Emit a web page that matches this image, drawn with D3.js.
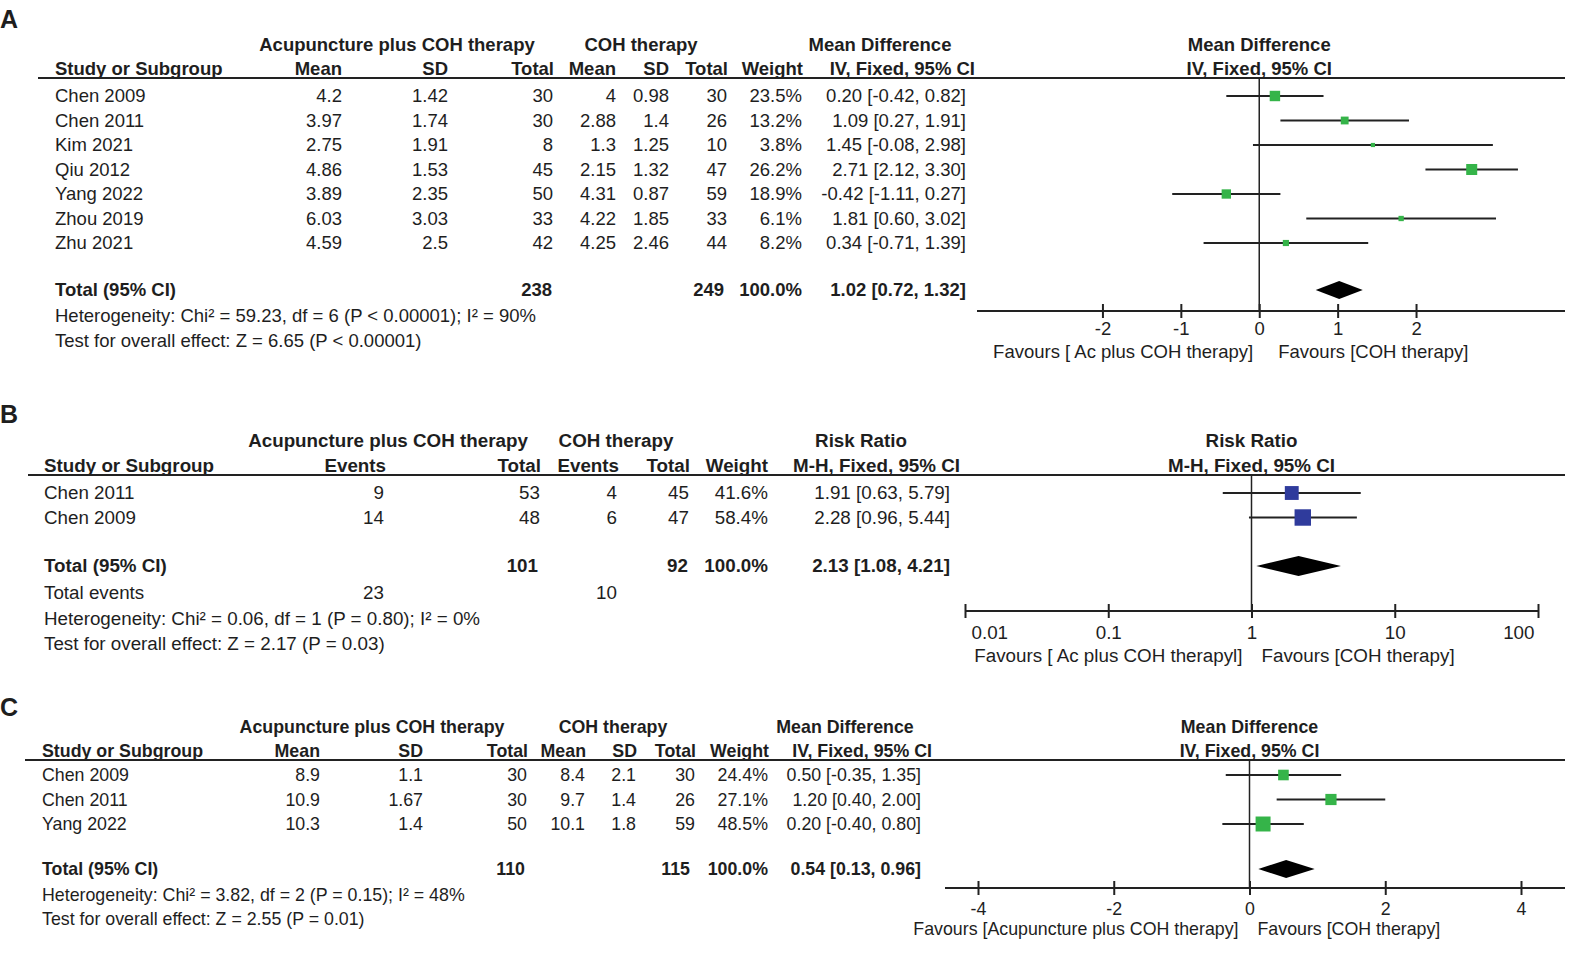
<!DOCTYPE html>
<html>
<head>
    <meta charset="utf-8">
    <title>Forest plots - Acupuncture plus COH therapy vs COH therapy</title>
    <script type="text/javascript" src="https://cdn.jsdelivr.net/npm/d3@7/dist/d3.min.js"></script>
    <style type="text/css">
        body { margin: 0; background: #fff; }
        svg text { font-family: "Liberation Sans", Arial, sans-serif; fill: #1e1e1e; }
    </style>
</head>
<body>
<script type="text/javascript">
    // ---- panel A data (mean difference) ----
    var studiesA = ["Chen 2009", "Chen 2011", "Kim 2021", "Qiu 2012", "Yang 2022", "Zhou 2019", "Zhu 2021"];
    var expMeanA = [4.2, 3.97, 2.75, 4.86, 3.89, 6.03, 4.59];
    var expSdA   = [1.42, 1.74, 1.91, 1.53, 2.35, 3.03, 2.5];
    var expNA    = [30, 30, 8, 45, 50, 33, 42];
    var ctlMeanA = [4, 2.88, 1.3, 2.15, 4.31, 4.22, 4.25];
    var ctlSdA   = [0.98, 1.4, 1.25, 1.32, 0.87, 1.85, 2.46];
    var ctlNA    = [30, 26, 10, 47, 59, 33, 44];
    var weightA  = [23.5, 13.2, 3.8, 26.2, 18.9, 6.1, 8.2];
    var estA     = [0.20, 1.09, 1.45, 2.71, -0.42, 1.81, 0.34];
    var loA      = [-0.42, 0.27, -0.08, 2.12, -1.11, 0.60, -0.71];
    var hiA      = [0.82, 1.91, 2.98, 3.30, 0.27, 3.02, 1.39];
    var totalA   = [1.02, 0.72, 1.32];
    var totalNA  = [238, 249];
    var ticksA   = [-2, -1, 0, 1, 2];
    var hetA  = "Heterogeneity: Chi\u00b2 = 59.23, df = 6 (P < 0.00001); I\u00b2 = 90%";
    var testA = "Test for overall effect: Z = 6.65 (P < 0.00001)";

    // ---- panel B data (risk ratio) ----
    var studiesB = ["Chen 2011", "Chen 2009"];
    var expEvB   = [9, 14];
    var expNB    = [53, 48];
    var ctlEvB   = [4, 6];
    var ctlNB    = [45, 47];
    var weightB  = [41.6, 58.4];
    var estB     = [1.91, 2.28];
    var loB      = [0.63, 0.96];
    var hiB      = [5.79, 5.44];
    var totalB   = [2.13, 1.08, 4.21];
    var totalNB  = [101, 92];
    var totalEvB = [23, 10];
    var ticksB   = [0.01, 0.1, 1, 10, 100];
    var hetB  = "Heterogeneity: Chi\u00b2 = 0.06, df = 1 (P = 0.80); I\u00b2 = 0%";
    var testB = "Test for overall effect: Z = 2.17 (P = 0.03)";

    // ---- panel C data (mean difference) ----
    var studiesC = ["Chen 2009", "Chen 2011", "Yang 2022"];
    var expMeanC = [8.9, 10.9, 10.3];
    var expSdC   = [1.1, 1.67, 1.4];
    var expNC    = [30, 30, 50];
    var ctlMeanC = [8.4, 9.7, 10.1];
    var ctlSdC   = [2.1, 1.4, 1.8];
    var ctlNC    = [30, 26, 59];
    var weightC  = [24.4, 27.1, 48.5];
    var estC     = [0.50, 1.20, 0.20];
    var loC      = [-0.35, 0.40, -0.40];
    var hiC      = [1.35, 2.00, 0.80];
    var totalC   = [0.54, 0.13, 0.96];
    var totalNC  = [110, 115];
    var ticksC   = [-4, -2, 0, 2, 4];
    var hetC  = "Heterogeneity: Chi\u00b2 = 3.82, df = 2 (P = 0.15); I\u00b2 = 48%";
    var testC = "Test for overall effect: Z = 2.55 (P = 0.01)";

    var w = 1578, h = 957;
    var svg = d3.select("body").append("svg").attr("width", w).attr("height", h);

    var ci = function(e, l, u) { return e.toFixed(2) + " [" + l.toFixed(2) + ", " + u.toFixed(2) + "]"; };
    var sizeScale = d3.scaleSqrt().domain([0, 100]).range([0, 21.5]);

    function txt(g, x, y, s, anchor, bold, fs) {
        return g.append("text").attr("x", x).attr("y", y).attr("text-anchor", anchor || "start")
            .attr("font-weight", bold ? "bold" : "normal").attr("font-size", fs).text(s);
    }

    function drawPanel(p) {
        var g = svg.append("g");
        var fs = p.fs;
        g.append("text").attr("x", 0).attr("y", p.letterY).attr("font-size", 25)
            .attr("font-weight", "bold").text(p.letter);

        // group headers
        p.groups.forEach(function(gr) { txt(g, gr[1], p.groupY, gr[0], "middle", true, fs); });
        // column headers
        txt(g, p.studyX, p.headY, "Study or Subgroup", "start", true, fs);
        p.heads.forEach(function(hd) { txt(g, hd[1], p.headY, hd[0], "end", true, fs); });
        txt(g, p.ciHeadX, p.headY, p.ciHead, "end", true, fs);
        g.append("line").attr("x1", p.lineX).attr("x2", 1565).attr("y1", p.headY + 3).attr("y2", p.headY + 3)
            .attr("stroke", "#222").attr("stroke-width", 2);

        var n = p.studies.length;
        var yRow = d3.scaleLinear().domain([0, 1]).range([p.rowY, p.rowY + 24.5]);

        // table body
        p.studies.forEach(function(s, i) {
            txt(g, p.studyX, yRow(i), s, "start", false, fs);
            p.cols.forEach(function(c) { txt(g, c.x, yRow(i), String(c.v[i]), "end", false, fs); });
            txt(g, p.weightX, yRow(i), p.weight[i].toFixed(1) + "%", "end", false, fs);
            txt(g, p.ciX, yRow(i), ci(p.est[i], p.lo[i], p.hi[i]), "end", false, fs);
        });
        txt(g, p.studyX, p.totalY, "Total (95% CI)", "start", true, fs);
        txt(g, p.totalNX[0], p.totalY, String(p.totalN[0]), "end", true, fs);
        txt(g, p.totalNX[1], p.totalY, String(p.totalN[1]), "end", true, fs);
        txt(g, p.weightX, p.totalY, "100.0%", "end", true, fs);
        txt(g, p.ciX, p.totalY, ci(p.total[0], p.total[1], p.total[2]), "end", true, fs);
        p.notes.forEach(function(nt) { txt(g, p.studyX, nt[1], nt[0], "start", false, fs); });
        if (p.extra) p.extra(g, fs);

        // forest plot
        var x = p.xScale;
        var x0 = x(p.log ? 1 : 0);
        txt(g, x0, p.groupY, p.plotTitle, "middle", true, fs);
        txt(g, x0, p.headY, p.plotSub, "middle", true, fs);
        g.append("line").attr("x1", x0).attr("x2", x0).attr("y1", p.headY + 3).attr("y2", p.axisY)
            .attr("stroke", "#222").attr("stroke-width", 1.5);

        var axis = d3.axisBottom(x).tickValues(p.ticks).tickSizeOuter(0).tickSize(6)
            .tickFormat(function(d) { return String(d); });
        var ax = g.append("g").attr("transform", "translate(0," + p.axisY + ")").call(axis);
        ax.select(".domain").remove();
        ax.append("line").attr("x1", p.axisRange[0]).attr("x2", p.axisRange[1])
            .attr("stroke", "#222").attr("stroke-width", 2);
        ax.selectAll(".tick line").attr("y1", -7).attr("y2", 7).attr("stroke", "#222").attr("stroke-width", 2);
        ax.selectAll(".tick text").attr("y", p.tickDy).attr("dy", 0).attr("font-size", fs)
            .attr("fill", "#1e1e1e").attr("font-family", "Liberation Sans, Arial, sans-serif");
        if (p.edgeLabels) {
            // end labels kept inside the axis, as in the original figure
            ax.selectAll(".tick text").attr("text-anchor", function(d, i) {
                return i === 0 ? "start" : (i === p.ticks.length - 1 ? "end" : "middle");
            }).attr("x", function(d, i) {
                return i === 0 ? 6 : (i === p.ticks.length - 1 ? -4 : 0);
            });
        }

        txt(g, x0 - p.favGap[0], p.favY, p.favL, "end", false, fs);
        txt(g, x0 + p.favGap[1], p.favY, p.favR, "start", false, fs);

        // CI lines and squares
        var rows = d3.range(n);
        g.selectAll(".ci").data(rows).enter().append("line")
            .attr("x1", function(i) { return x(p.lo[i]); })
            .attr("x2", function(i) { return x(p.hi[i]); })
            .attr("y1", function(i) { return yRow(i) - 6; })
            .attr("y2", function(i) { return yRow(i) - 6; })
            .attr("stroke", "#222").attr("stroke-width", 2);
        g.selectAll(".sq").data(rows).enter().append("rect")
            .attr("x", function(i) { return x(p.est[i]) - sizeScale(p.weight[i]) / 2; })
            .attr("y", function(i) { return yRow(i) - 6 - sizeScale(p.weight[i]) / 2; })
            .attr("width", function(i) { return sizeScale(p.weight[i]); })
            .attr("height", function(i) { return sizeScale(p.weight[i]); })
            .attr("fill", p.color);

        var dy = p.totalY - 6, dh = p.diamondH / 2;
        var pts = [[x(p.total[1]), dy], [x(p.total[0]), dy - dh], [x(p.total[2]), dy], [x(p.total[0]), dy + dh]];
        g.append("path").attr("d", d3.line()(pts) + "Z").attr("fill", "#000");
    }

    // panel A
    drawPanel({
        letter: "A", letterY: 28, fs: 18.5,
        groupY: 51, headY: 75, rowY: 102, totalY: 296,
        studyX: 55, lineX: 38,
        groups: [["Acupuncture plus COH therapy", 397], ["COH therapy", 641], ["Mean Difference", 880]],
        heads: [["Mean", 342], ["SD", 448], ["Total", 554], ["Mean", 616], ["SD", 669], ["Total", 728], ["Weight", 803]],
        ciHead: "IV, Fixed, 95% CI", ciHeadX: 975,
        studies: studiesA,
        cols: [{ x: 342, v: expMeanA }, { x: 448, v: expSdA }, { x: 553, v: expNA },
               { x: 616, v: ctlMeanA }, { x: 669, v: ctlSdA }, { x: 727, v: ctlNA }],
        weight: weightA, weightX: 802, ciX: 966,
        est: estA, lo: loA, hi: hiA, total: totalA, totalN: totalNA, totalNX: [552, 724],
        notes: [[hetA, 322], [testA, 347]],
        log: false,
        xScale: d3.scaleLinear().domain([-3.6, 3.9]).range([977, 1565]),
        axisRange: [977, 1565], ticks: ticksA, axisY: 311, tickDy: 24, favY: 358,
        plotTitle: "Mean Difference", plotSub: "IV, Fixed, 95% CI",
        favL: "Favours [ Ac plus COH therapy]", favR: "Favours [COH therapy]", favGap: [6, 19],
        color: "#35b449", diamondH: 18
    });

    // panel B
    drawPanel({
        letter: "B", letterY: 423, fs: 18.8,
        groupY: 447, headY: 472, rowY: 499, totalY: 572,
        studyX: 44, lineX: 28,
        groups: [["Acupuncture plus COH therapy", 388], ["COH therapy", 616], ["Risk Ratio", 861]],
        heads: [["Events", 386], ["Total", 541], ["Events", 619], ["Total", 690], ["Weight", 768]],
        ciHead: "M-H, Fixed, 95% CI", ciHeadX: 960,
        studies: studiesB,
        cols: [{ x: 384, v: expEvB }, { x: 540, v: expNB }, { x: 617, v: ctlEvB }, { x: 689, v: ctlNB }],
        weight: weightB, weightX: 768, ciX: 950,
        est: estB, lo: loB, hi: hiB, total: totalB, totalN: totalNB, totalNX: [538, 688],
        notes: [[hetB, 625], [testB, 650]],
        extra: function(g, fs) {
            txt(g, 44, 599, "Total events", "start", false, fs);
            txt(g, 384, 599, String(totalEvB[0]), "end", false, fs);
            txt(g, 617, 599, String(totalEvB[1]), "end", false, fs);
        },
        log: true, edgeLabels: true,
        xScale: d3.scaleLog().domain([0.01, 100]).range([965, 1538]),
        axisRange: [965, 1538], ticks: ticksB, axisY: 611, tickDy: 28, favY: 662,
        plotTitle: "Risk Ratio", plotSub: "M-H, Fixed, 95% CI",
        favL: "Favours [ Ac plus COH therapyl]", favR: "Favours [COH therapy]", favGap: [9, 10],
        color: "#2f3b9c", diamondH: 20
    });

    // panel C
    drawPanel({
        letter: "C", letterY: 716, fs: 17.8,
        groupY: 733, headY: 757, rowY: 781, totalY: 875,
        studyX: 42, lineX: 25,
        groups: [["Acupuncture plus COH therapy", 372], ["COH therapy", 613], ["Mean Difference", 845]],
        heads: [["Mean", 320], ["SD", 423], ["Total", 528], ["Mean", 586], ["SD", 637], ["Total", 696], ["Weight", 769]],
        ciHead: "IV, Fixed, 95% CI", ciHeadX: 932,
        studies: studiesC,
        cols: [{ x: 320, v: expMeanC }, { x: 423, v: expSdC }, { x: 527, v: expNC },
               { x: 585, v: ctlMeanC }, { x: 636, v: ctlSdC }, { x: 695, v: ctlNC }],
        weight: weightC, weightX: 768, ciX: 921,
        est: estC, lo: loC, hi: hiC, total: totalC, totalN: totalNC, totalNX: [525, 690],
        notes: [[hetC, 901], [testC, 925]],
        log: false,
        xScale: d3.scaleLinear().domain([-4, 4]).range([978, 1521]),
        axisRange: [945, 1565], ticks: ticksC, axisY: 888, tickDy: 27, favY: 935,
        plotTitle: "Mean Difference", plotSub: "IV, Fixed, 95% CI",
        favL: "Favours [Acupuncture plus COH therapy]", favR: "Favours [COH therapy]", favGap: [11, 8],
        color: "#35b449", diamondH: 18
    });
</script>
</body>
</html>
